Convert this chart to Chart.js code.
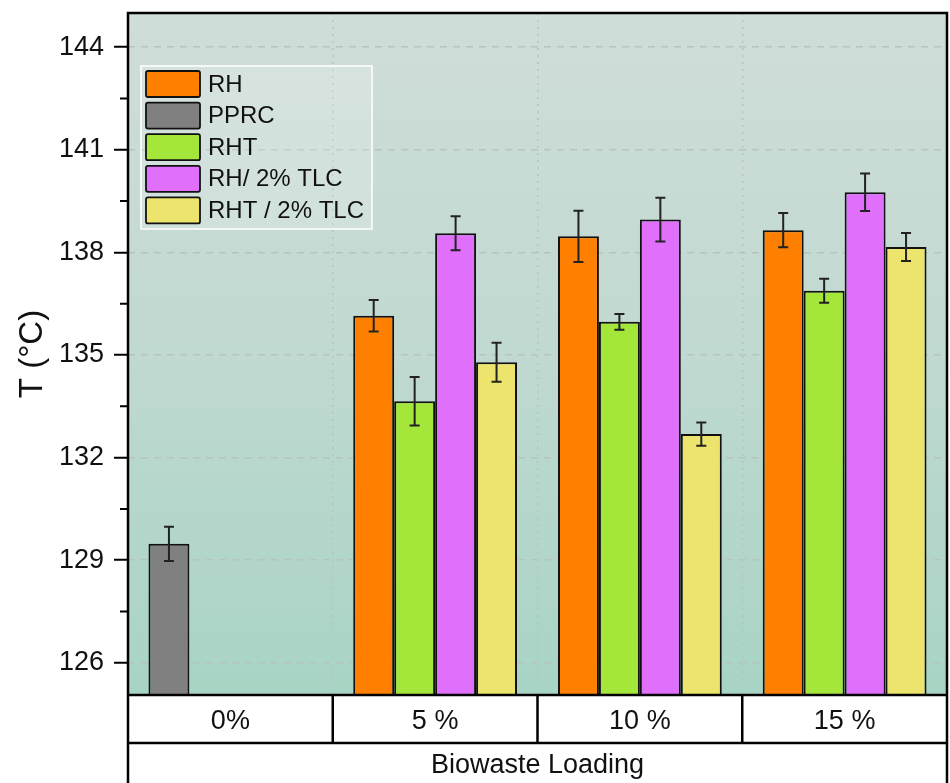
<!DOCTYPE html>
<html>
<head>
<meta charset="utf-8">
<script src="https://cdn.jsdelivr.net/npm/chart.js@4"></script>
<style>
  html, body { margin: 0; padding: 0; background: #fff; }
  #wrap { width: 950px; height: 783px; }
</style>
</head>
<body>
<div id="wrap"><canvas id="tempChart" width="950" height="783"></canvas></div>
<script>
const categories = ['0%', '5 %', '10 %', '15 %'];
const seriesNames = ['RH', 'PPRC', 'RHT', 'RH/ 2% TLC', 'RHT / 2% TLC'];
const seriesColors = ['#ff8000', '#808080', '#a4e639', '#e070fc', '#ece46c'];

const rhValues = [null, 136.15, 138.47, 138.65];
const rhErrors = [null, 0.46, 0.75, 0.5];
const pprcValues = [129.48, null, null, null];
const pprcErrors = [0.5, null, null, null];
const rhtValues = [null, 133.65, 135.97, 136.88];
const rhtErrors = [null, 0.71, 0.23, 0.35];
const rhTlcValues = [null, 138.56, 138.96, 139.76];
const rhTlcErrors = [null, 0.5, 0.64, 0.55];
const rhtTlcValues = [null, 134.79, 132.69, 138.16];
const rhtTlcErrors = [null, 0.57, 0.34, 0.41];

const yTickValues = [126, 129, 132, 135, 138, 141, 144];
const xTitle = 'Biowaste Loading';
const yTitle = 'T (°C)';

const FONT = "'Liberation Sans', Arial, sans-serif";

// RH and PPRC share the first slot of each group
const slots = ['a', 'a', 'b', 'c', 'd'];
const values = [rhValues, pprcValues, rhtValues, rhTlcValues, rhtTlcValues];
const errors = [rhErrors, pprcErrors, rhtErrors, rhTlcErrors, rhtTlcErrors];

const datasets = seriesNames.map((name, i) => ({
    label: name,
    data: values[i],
    errors: errors[i],
    stack: slots[i],
    backgroundColor: seriesColors[i],
    borderColor: '#111',
    borderWidth: 2
}));

const plotBackground = {
    id: 'plotBackground',
    beforeDraw(chart) {
        const { ctx, chartArea: a } = chart;
        const g = ctx.createLinearGradient(0, a.top, 0, a.bottom);
        g.addColorStop(0, '#d0ddd9');
        g.addColorStop(0.5, '#c0d9d1');
        g.addColorStop(1, '#a8d4c4');
        ctx.save();
        ctx.fillStyle = g;
        ctx.fillRect(a.left, a.top, a.right - a.left, a.bottom - a.top);
        ctx.restore();
    }
};

const errorBars = {
    id: 'errorBars',
    afterDatasetsDraw(chart) {
        const { ctx } = chart;
        const y = chart.scales.y;
        ctx.save();
        ctx.strokeStyle = '#222';
        ctx.lineWidth = 2;
        chart.data.datasets.forEach((ds, i) => {
            const meta = chart.getDatasetMeta(i);
            meta.data.forEach((bar, j) => {
                const v = ds.data[j], e = ds.errors[j];
                if (v == null || e == null) return;
                const top = y.getPixelForValue(v + e);
                const bot = y.getPixelForValue(v - e);
                ctx.beginPath();
                ctx.moveTo(bar.x, top); ctx.lineTo(bar.x, bot);
                ctx.moveTo(bar.x - 5, top); ctx.lineTo(bar.x + 5, top);
                ctx.moveTo(bar.x - 5, bot); ctx.lineTo(bar.x + 5, bot);
                ctx.stroke();
            });
        });
        ctx.restore();
    }
};

const boxLegend = {
    id: 'boxLegend',
    afterDatasetsDraw(chart) {
        const { ctx } = chart;
        ctx.save();
        ctx.fillStyle = 'rgba(255,255,255,0.18)';
        ctx.strokeStyle = '#fff';
        ctx.lineWidth = 1.5;
        ctx.fillRect(141, 66, 231, 163);
        ctx.strokeRect(141, 66, 231, 163);
        ctx.font = '24px ' + FONT;
        ctx.textBaseline = 'middle';
        chart.data.datasets.forEach((ds, i) => {
            const cy = 84 + i * 31.6;
            ctx.fillStyle = ds.backgroundColor;
            ctx.strokeStyle = '#111';
            ctx.lineWidth = 1.8;
            ctx.beginPath();
            ctx.roundRect(146, cy - 13, 54, 26, 2);
            ctx.fill();
            ctx.stroke();
            ctx.fillStyle = '#111';
            ctx.fillText(ds.label, 208, cy + 1);
        });
        ctx.restore();
    }
};

const frameTable = {
    id: 'frameTable',
    afterDraw(chart) {
        const { ctx, chartArea: a } = chart;
        const x = chart.scales.x;
        const rowY = a.bottom + 48;
        const H = chart.height;
        ctx.save();
        ctx.strokeStyle = '#000';
        ctx.lineWidth = 2.5;
        ctx.beginPath();
        ctx.moveTo(a.left, H); ctx.lineTo(a.left, a.top); ctx.lineTo(a.right, a.top); ctx.lineTo(a.right, H);
        ctx.moveTo(a.left, a.bottom); ctx.lineTo(a.right, a.bottom);
        ctx.moveTo(a.left, rowY); ctx.lineTo(a.right, rowY);
        for (let i = 0; i < categories.length - 1; i++) {
            const bx = (x.getPixelForValue(i) + x.getPixelForValue(i + 1)) / 2;
            ctx.moveTo(bx, a.bottom); ctx.lineTo(bx, rowY);
        }
        ctx.stroke();
        // minor ticks on the y axis
        const y = chart.scales.y;
        ctx.lineWidth = 2;
        ctx.beginPath();
        yTickValues.forEach(v => {
            const m = v + 1.5;
            if (m > y.max) return;
            const py = y.getPixelForValue(m);
            ctx.moveTo(a.left - 8, py); ctx.lineTo(a.left, py);
        });
        ctx.stroke();
        ctx.restore();
    }
};

new Chart(document.getElementById('tempChart'), {
    type: 'bar',
    data: { labels: categories, datasets: datasets },
    plugins: [plotBackground, errorBars, boxLegend, frameTable],
    options: {
        responsive: false,
        animation: false,
        layout: { padding: { top: 13, right: 3, left: 0, bottom: 0 } },
        datasets: { bar: { categoryPercentage: 0.8, barPercentage: 1.0 } },
        plugins: { legend: { display: false }, tooltip: { enabled: false } },
        scales: {
            x: {
                afterFit(s) { s.height = 88; s.paddingLeft = 0; s.paddingRight = 0; },
                border: { display: false, dash: [2, 5] },
                grid: { offset: true, drawTicks: false, color: '#b6c4c0', lineWidth: 1.5 },
                ticks: { color: '#111', padding: 10, font: { family: FONT, size: 27 } },
                title: { display: true, text: xTitle, color: '#111', padding: { top: 0, bottom: 1 }, font: { family: FONT, size: 27 } }
            },
            y: {
                stacked: false,
                min: 125.06,
                max: 145,
                afterFit(s) { s.width = 128; s.paddingTop = 0; s.paddingBottom = 0; },
                afterBuildTicks(s) { s.ticks = yTickValues.map(v => ({ value: v })); },
                border: { display: false, dash: [7, 6] },
                grid: {
                    color: '#b6c4c0', lineWidth: 1.5,
                    tickLength: 14, tickColor: '#000', tickWidth: 2, tickBorderDash: []
                },
                ticks: { color: '#111', padding: 10, font: { family: FONT, size: 27 } },
                title: { display: true, text: yTitle, color: '#111', padding: { top: 13, bottom: 0 }, font: { family: FONT, size: 33 } }
            }
        }
    }
});
</script>
</body>
</html>
